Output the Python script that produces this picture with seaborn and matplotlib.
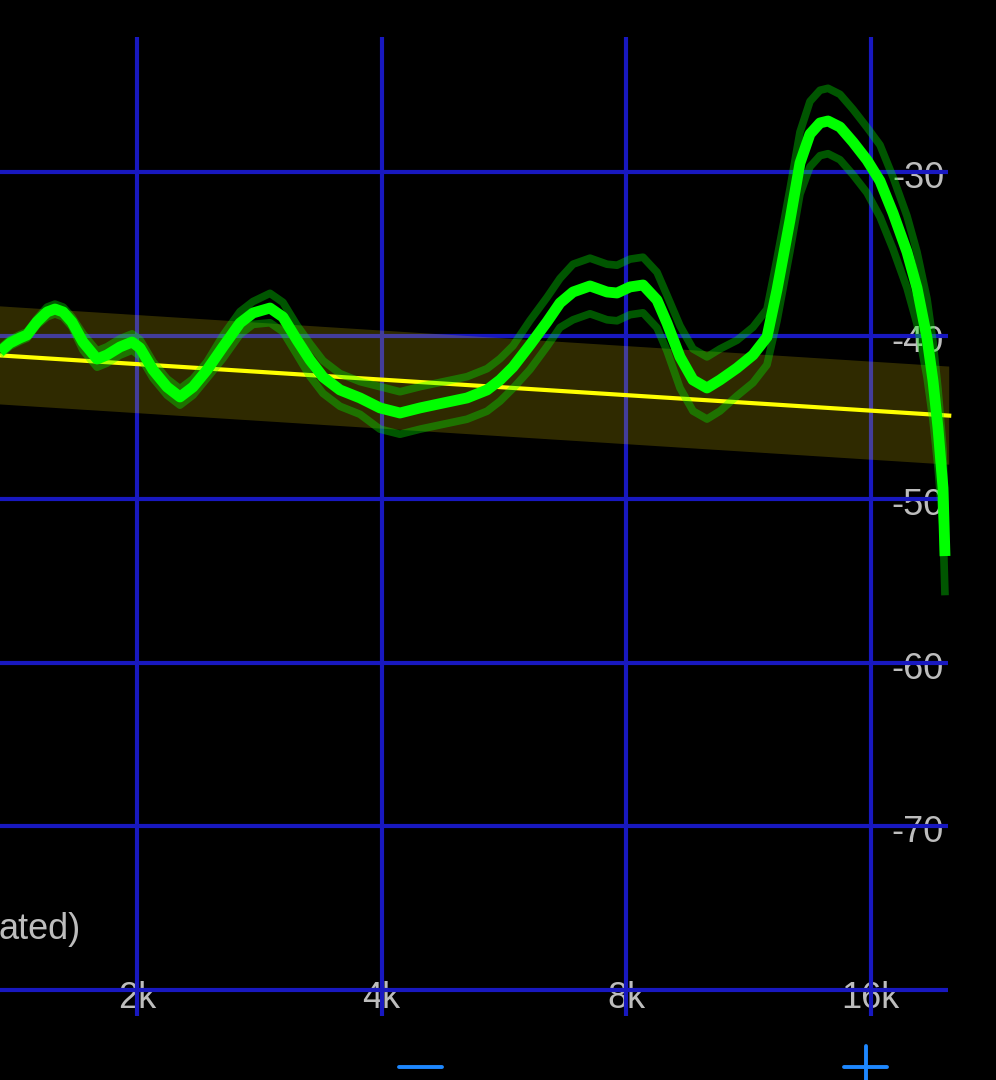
import matplotlib
matplotlib.use("Agg")
import matplotlib.pyplot as plt
from matplotlib.lines import Line2D
import matplotlib.transforms as mtransforms
import numpy as np
import pandas as pd
import seaborn as sns

# ---------------- data ----------------
freq_hz = [1356, 1395, 1435, 1464, 1506, 1550, 1585, 1622, 1663, 1716,
           1786, 1837, 1906, 1972, 2017, 2093, 2178, 2259, 2344, 2439,
           2552, 2678, 2779, 2916, 3025, 3148, 3266, 3389, 3556, 3764,
           3983, 4215, 4461, 4762, 5097, 5395, 5597, 5807, 6094, 6395,
           6635, 6884, 7224, 7581, 7799, 8091, 8395, 8735, 8986, 9324,
           9674, 10065, 10443, 10959, 11467, 11931, 12275, 12735, 13101, 13478,
           13866, 14184, 14675, 15226, 15842, 16437, 17054, 17744, 18255, 18780,
           19102, 19374, 19651, 19763]
response_db = [-40.99, -40.46, -40.15, -39.97, -39.17, -38.56, -38.38, -38.56, -39.17, -40.40,
               -41.44, -41.19, -40.70, -40.40, -40.76, -42.11, -43.15, -43.76, -43.15, -42.11,
               -40.70, -39.24, -38.62, -38.32, -38.87, -40.28, -41.50, -42.54, -43.33, -43.82,
               -44.43, -44.74, -44.43, -44.13, -43.82, -43.33, -42.72, -41.93, -40.58, -39.17,
               -38.01, -37.34, -36.97, -37.34, -37.40, -37.03, -36.91, -37.83, -39.24, -41.31,
               -42.72, -43.21, -42.72, -41.99, -41.19, -40.09, -37.20, -32.94, -29.45, -27.68,
               -27.00, -26.88, -27.25, -28.17, -29.27, -30.55, -32.51, -34.89, -37.09, -40.15,
               -42.78, -45.66, -49.33, -53.49]
spread_db = [0.2, 0.2, 0.2, 0.2, 0.2, 0.3, 0.3, 0.3, 0.3, 0.5,
             0.5, 0.5, 0.5, 0.5, 0.5, 0.5, 0.5, 0.5, 0.5, 0.5,
             0.7, 0.7, 0.7, 0.9, 0.9, 0.9, 1.0, 1.0, 1.0, 1.0,
             1.3, 1.3, 1.3, 1.3, 1.3, 1.3, 1.3, 1.3, 1.5, 1.5,
             1.5, 1.7, 1.7, 1.7, 1.7, 1.7, 1.7, 1.7, 1.7, 1.9,
             1.9, 1.9, 1.9, 1.7, 1.7, 1.7, 1.9, 1.9, 1.9, 2.0,
             2.0, 2.0, 2.0, 2.0, 2.0, 2.2, 2.2, 2.2, 2.2, 2.4,
             2.4, 2.4, 2.4, 2.4]

target_freq_hz = [1000, 20000]
target_db = [-40.8, -44.9]
target_tolerance_db = 3.0

x_ticks = [2000, 4000, 8000, 16000]
x_tick_labels = ["2k", "4k", "8k", "16k"]
y_grid = [-30, -40, -50, -60, -70, -80]
y_tick_labels = ["-30", "-40", "-50", "-60", "-70"]
note_text = "ated)"

# ---------------- figure ----------------
W, H = 996, 1080
fig = plt.figure(figsize=(W / 100, H / 100), dpi=100, facecolor="black")
ax = fig.add_axes([0, 0, 1, 1])
ax.set_facecolor("black")
ax.set_xscale("log", base=2)

def px_to_f(x):
    return 2000 * 2 ** ((x - 137) / 244.5)

def py_to_db(y):
    return -30 - (y - 172) / 16.35

ax.set_xlim(px_to_f(0), px_to_f(W))
ax.set_ylim(py_to_db(H), py_to_db(0))
ax.set_axis_off()

grid_c = "#1818c0"
txt_c = "#bdbdbd"
font = ["Liberation Sans", "DejaVu Sans"]

# grid
ax.hlines(y_grid, px_to_f(0), px_to_f(948), colors=grid_c, lw=3.0, zorder=2)
ax.vlines(x_ticks, py_to_db(1016), py_to_db(37), colors=grid_c, lw=3.0, zorder=2)

# tick labels (drawn below the grid lines)
ytrans = mtransforms.blended_transform_factory(ax.transAxes, ax.transData)
for v, lab in zip(y_grid, y_tick_labels):
    ax.text(944 / W, v - 16 / 16.35, lab, transform=ytrans, ha="right",
            va="baseline", color=txt_c, fontsize=26, family=font, zorder=1)
xtrans = mtransforms.blended_transform_factory(ax.transData, ax.transAxes)
for v, lab in zip(x_ticks, x_tick_labels):
    ax.text(v, 1 - 1008 / H, lab, transform=xtrans, ha="center", va="baseline",
            color=txt_c, fontsize=26, family=font, zorder=1)
ax.text(-1 / W, 1 - 939 / H, note_text, transform=ax.transAxes, ha="left",
        va="baseline", color=txt_c, fontsize=26, family=font, zorder=1)

# target band + line
tf = np.array(target_freq_hz, dtype=float)
td = np.array(target_db)
ax.fill_between(tf, td - target_tolerance_db, td + target_tolerance_db,
                color="#ffe000", alpha=0.19, lw=0, zorder=3)
df_t = pd.DataFrame({"f": tf, "db": td})
sns.lineplot(data=df_t, x="f", y="db", ax=ax, color="#ffff00", lw=3.0,
             estimator=None, sort=False, zorder=4, legend=False)

# measured response with envelope
f = np.array(freq_hz, dtype=float)
r = np.array(response_db)
s = np.array(spread_db)
df_u = pd.DataFrame({"f": f, "db": r + s})
df_l = pd.DataFrame({"f": f, "db": r - s})
df_m = pd.DataFrame({"f": f, "db": r})
for d in (df_u, df_l):
    sns.lineplot(data=d, x="f", y="db", ax=ax, color="#00ff00", alpha=0.34,
                 lw=5.5, estimator=None, sort=False, zorder=5, legend=False,
                 solid_joinstyle="round", solid_capstyle="butt")
sns.lineplot(data=df_m, x="f", y="db", ax=ax, color="#00ff00", lw=7.8,
             estimator=None, sort=False, zorder=6, legend=False,
             solid_joinstyle="round", solid_capstyle="butt")

# bottom buttons (minus / plus)
btn_c = "#1e88ff"
def fl(x0, y0, x1, y1):
    fig.add_artist(Line2D([x0 / W, x1 / W], [1 - y0 / H, 1 - y1 / H],
                          transform=fig.transFigure, color=btn_c, lw=2.8,
                          solid_capstyle="round"))
fl(399, 1067, 442, 1067)
fl(844, 1067, 887, 1067)
fl(865.5, 1046, 865.5, 1082)

fig.savefig("out.png", dpi=100, facecolor="black")
